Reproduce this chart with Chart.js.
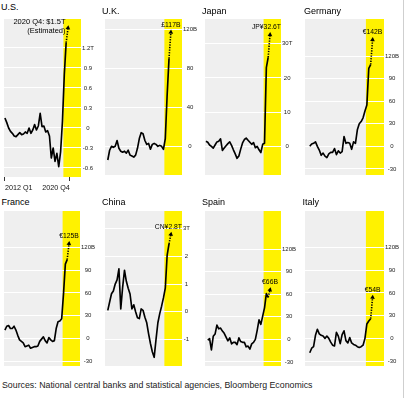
<!DOCTYPE html>
<html><head><meta charset="utf-8">
<script src="https://cdn.jsdelivr.net/npm/chart.js@4.4.1/dist/chart.umd.min.js"></script>
<style>
html,body{margin:0;padding:0;background:#fff;}
body{width:405px;height:398px;position:relative;overflow:hidden;font-family:"Liberation Sans",Arial,sans-serif;}
.t{position:absolute;font-size:9px;line-height:9px;color:#000;white-space:nowrap;}
canvas{position:absolute;}
.src{position:absolute;left:2px;top:380.6px;font-size:8.8px;line-height:8.8px;color:#222;white-space:nowrap;}
.edge{position:absolute;left:403px;top:0;width:1px;height:398px;background:#cfcfcf;}
</style></head><body>
<div class="edge"></div>
<div class="src">Sources: National central banks and statistical agencies, Bloomberg Economics</div>
<script>
// ---- data (quarter index 0 = 2012 Q1) ----
const countries = ['U.S.', 'U.K.', 'Japan', 'Germany', 'France', 'China', 'Spain', 'Italy'];
const units = ['T', 'B', 'T', 'B', 'B', 'T', 'B', 'B'];

const usValues = [0.15, 0.08, 0.0, -0.05, -0.08, -0.12, -0.13, -0.1, -0.07, -0.1, -0.09, -0.06, -0.08, 0.0, -0.08, -0.03, 0.05, -0.03, 0.03, 0.22, 0.02, 0.03, -0.06, -0.04, -0.12, -0.45, -0.3, -0.5, -0.38, -0.58, -0.36, 0.1, 0.8, 1.28];
const ukValues = [null, -14, -4, 0, -1, 0, 6, -2, -5, -6, -5, -7, -4, -9, -10, -11, -9, -2, 8, 14, 13, 6, 2, 3, -3, 2, 3, 2, 0, 1, 0, -3, 8, 53, 90];
const japanValues = [1.5, 1.2, 0.4, 0, -0.5, 0.4, 1.3, 1.5, 2.2, -1.2, -0.5, 0.2, 0.8, 1.3, 0.3, -1, -2.2, -3.5, -2.8, -0.8, 1.0, 2.0, 2.4, 1.8, 1.2, 0.6, 1.1, -0.4, 0.0, -1.0, -1.8, 0.6, 0.9, 23, 26];
const germanyValues = [null, null, 0, 3, 4, 6, 0, -5, -12, -9, -13, -15, -10, -8, -8, -3, -11, -6, -9, -7, 13, 4, 5, 4, -4, 6, 4, 22, 30, 33, 38, 47, 55, 104, 109];
const franceValues = [11, 16, 17, 13, 13, 16, 11, 4, -2, -4, -6, -11, -10, -9, -13, -12, -11, -11, -10, -4, -1, 2, -3, -6, 1, -2, -4, -3, 13, 22, 23, 26, 59, 98, 104];
const chinaValues = [null, 0.05, 0.35, 0.65, 0.75, 1.0, 1.15, 1.55, 0.1, 0.88, 1.5, 1.1, 0.85, 0.64, 0.1, 0.25, 0.0, -0.22, -0.25, 0.1, 0.05, -0.2, -0.4, -0.8, -1.15, -1.45, -1.65, -1.0, -0.4, -0.07, 0.2, 0.5, 0.85, 2.05, 2.45];
const spainValues = [null, -1, 1, -14, 4, 7, 19, 14, 15, 11, 8, 3, -2, 2, -6, -4, -4, -7, 2, -3, -4, -4, -10, -9, -13, -6, -4, 0, 12, 26, 20, 31, 42, 61, 56];
const italyValues = [null, null, -19, -13, -11, 4, 12, 6, 4, 3, 0, 3, 0, -5, -9, -10, 8, 3, -7, 5, 10, -3, -6, 1, -6, -8, -9, -11, -12, -11, -9, 0, 19, 23, 26];

const estimates = [1.5, 117, 32.6, 142, 125, 2.8, 66, 54];
const estimateLabels = [['2020 Q4: $1.5T', '(Estimated)'], ['£117B'], ['JP¥32.6T'], ['€142B'], ['€125B'], ['CN¥2.8T'], ['€66B'], ['€54B']];

const usTicks = [-0.6, -0.3, 0, 0.3, 0.6, 0.9, 1.2];
const ukTicks = [0, 40, 80, 120];
const japanTicks = [0, 10, 20, 30];
const germanyTicks = [-30, 0, 30, 60, 90, 120];
const franceTicks = [-30, 0, 30, 60, 90, 120];
const chinaTicks = [-1, 0, 1, 2, 3];
const spainTicks = [-30, 0, 30, 60, 90, 120];
const italyTicks = [-30, 0, 30, 60, 90, 120];

const xTickIndex = [0, 35];
const xTickLabels = ['2012 Q1', '2020 Q4'];
const highlightStart = 31.5; // 2020 shaded

const seriesValues = [usValues, ukValues, japanValues, germanyValues, franceValues, chinaValues, spainValues, italyValues];
const seriesTicks = [usTicks, ukTicks, japanTicks, germanyTicks, franceTicks, chinaTicks, spainTicks, italyTicks];

// ---- layout (pixel geometry of each panel's plot area and axis range) ----
const geom = [
  {l:0,   t:19,  r:81,  b:177, ymin:-0.735, ymax:1.634, tx:1,   tb:10.5, xaxis:true, mode:'left'},
  {l:101, t:19,  r:182, b:177, ymin:-29.4,  ymax:130.6, tx:102, tb:15},
  {l:201, t:19,  r:281, b:177, ymin:-8.36,  ymax:37.2,  tx:202, tb:15},
  {l:301, t:19,  r:384, b:177, ymin:-38.2,  ymax:169.7, tx:304, tb:15},
  {l:0,   t:211, r:80,  b:368, ymin:-36.5,  ymax:168.2, tx:1.5, tb:205.5},
  {l:101, t:211, r:182, b:368, ymin:-1.964, ymax:3.643, tx:102, tb:205.5},
  {l:201, t:211, r:281, b:368, ymin:-35.5,  ymax:171,   tx:202, tb:205.5},
  {l:301, t:211, r:384, b:368, ymin:-36.5,  ymax:168.2, tx:302.5, tb:205.5}
];

const FONT = '"Liberation Sans", Arial, sans-serif';
Chart.defaults.font.family = FONT;

const panelPlugin = {
  id: 'panel',
  beforeDraw(chart) {
    const {ctx, chartArea: a, scales: {x}} = chart;
    ctx.save();
    ctx.fillStyle = '#efefef';
    ctx.fillRect(a.left, a.top, a.right - a.left, a.bottom - a.top);
    const xs = x.getPixelForValue(highlightStart);
    ctx.fillStyle = '#fff200';
    ctx.fillRect(xs, a.top, a.right - xs, a.bottom - a.top);
    ctx.restore();
  },
  afterDatasetsDraw(chart, args, opts) {
    const {ctx, chartArea: a, scales: {x, y}} = chart;
    const tipX = x.getPixelForValue(opts.estX);
    const tipY = y.getPixelForValue(opts.estY);
    ctx.save();
    ctx.fillStyle = '#000';
    ctx.textBaseline = 'alphabetic';
    if (opts.mode === 'left') {
      ctx.font = '7.5px ' + FONT;
      ctx.textAlign = 'right';
      opts.lines.forEach((s, i) => ctx.fillText(s, tipX - 2.5, tipY - 3.5 + i * 9));
    } else {
      ctx.font = '6.8px ' + FONT;
      const s = opts.lines[0];
      const w = ctx.measureText(s).width;
      let cx = tipX;
      if (cx + w / 2 > a.right) cx = a.right - w / 2;
      ctx.textAlign = 'center';
      ctx.fillText(s, cx, tipY - 5.5);
    }
    ctx.restore();
  }
};

countries.forEach((name, i) => {
  const g = geom[i];
  const vals = seriesValues[i];
  const ticks = seriesTicks[i];
  const top = ticks[ticks.length - 1];
  const unit = units[i];

  const title = document.createElement('div');
  title.className = 't';
  title.textContent = name;
  title.style.left = g.tx + 'px';
  title.style.top = (g.tb - 7.6) + 'px';
  document.body.appendChild(title);

  const padTop = 6, axisW = 22;
  const xAxisH = g.xaxis ? 16 : 0;
  const padBottom = g.xaxis ? 0 : 2;
  const W = (g.r - g.l) + axisW;
  const H = (g.b - g.t) + padTop + padBottom + xAxisH;
  const cv = document.createElement('canvas');
  cv.width = W; cv.height = H;
  cv.style.left = g.l + 'px';
  cv.style.top = (g.t - padTop) + 'px';
  cv.style.width = W + 'px';
  cv.style.height = H + 'px';
  document.body.appendChild(cv);

  const lineData = vals.map((v, k) => v === null ? null : {x: k, y: v}).filter(Boolean);
  const lastIdx = vals.length - 1;
  const estData = [{x: lastIdx, y: vals[lastIdx]}, {x: lastIdx + 1, y: estimates[i]}];

  new Chart(cv, {
    type: 'line',
    data: {
      datasets: [
        {data: lineData, borderColor: '#000', borderWidth: 1.65, pointRadius: 0, tension: 0,
         borderJoinStyle: 'round', clip: false},
        {data: estData, borderColor: '#000', borderWidth: 1.6, borderDash: [1.3, 1.3], tension: 0,
         pointRadius: [0, 2.7], pointStyle: 'triangle', pointBackgroundColor: '#000', pointBorderWidth: 0,
         clip: false,
         pointRotation: (c) => {
           const ch = c.chart, sx = ch.scales.x, sy = ch.scales.y;
           const d = c.dataset.data;
           const dx = sx.getPixelForValue(d[1].x) - sx.getPixelForValue(d[0].x);
           const dy = sy.getPixelForValue(d[1].y) - sy.getPixelForValue(d[0].y);
           return Math.atan2(dx, -dy) * 180 / Math.PI;
         }}
      ]
    },
    options: {
      responsive: false, animation: false, devicePixelRatio: 1, events: [],
      layout: {padding: {top: padTop, bottom: padBottom, left: 0, right: 0}},
      plugins: {
        legend: {display: false}, tooltip: {enabled: false},
        panel: {estX: lastIdx + 1, estY: estimates[i], lines: estimateLabels[i], mode: g.mode || 'above'}
      },
      scales: {
        x: {
          type: 'linear', min: -0.5, max: 41, display: !!g.xaxis,
          afterBuildTicks: (s) => { s.ticks = xTickIndex.map(v => ({value: v})); },
          afterFit: (s) => { s.height = xAxisH; s.paddingLeft = 0; s.paddingRight = 0; },
          grid: {display: true, drawOnChartArea: false, drawTicks: true, tickLength: 4, color: '#000', lineWidth: 0.8},
          border: {display: false},
          ticks: {align: 'inner', padding: 2.5, maxRotation: 0, autoSkip: false, color: '#111',
                  font: {size: 7.2}, callback: (v, k) => xTickLabels[k]}
        },
        y: {
          type: 'linear', position: 'right', min: g.ymin, max: g.ymax,
          afterBuildTicks: (s) => { s.ticks = ticks.map(v => ({value: v})); },
          afterFit: (s) => { s.width = axisW; s.paddingTop = 0; s.paddingBottom = 0; },
          grid: {color: '#ffffff', lineWidth: 1, drawTicks: false},
          border: {display: false},
          ticks: {padding: 1, crossAlign: 'center', color: '#222', font: {size: 6},
                  callback: (v) => v === top ? v + unit : String(v)}
        }
      }
    },
    plugins: [panelPlugin]
  });
});
</script>
</body></html>
